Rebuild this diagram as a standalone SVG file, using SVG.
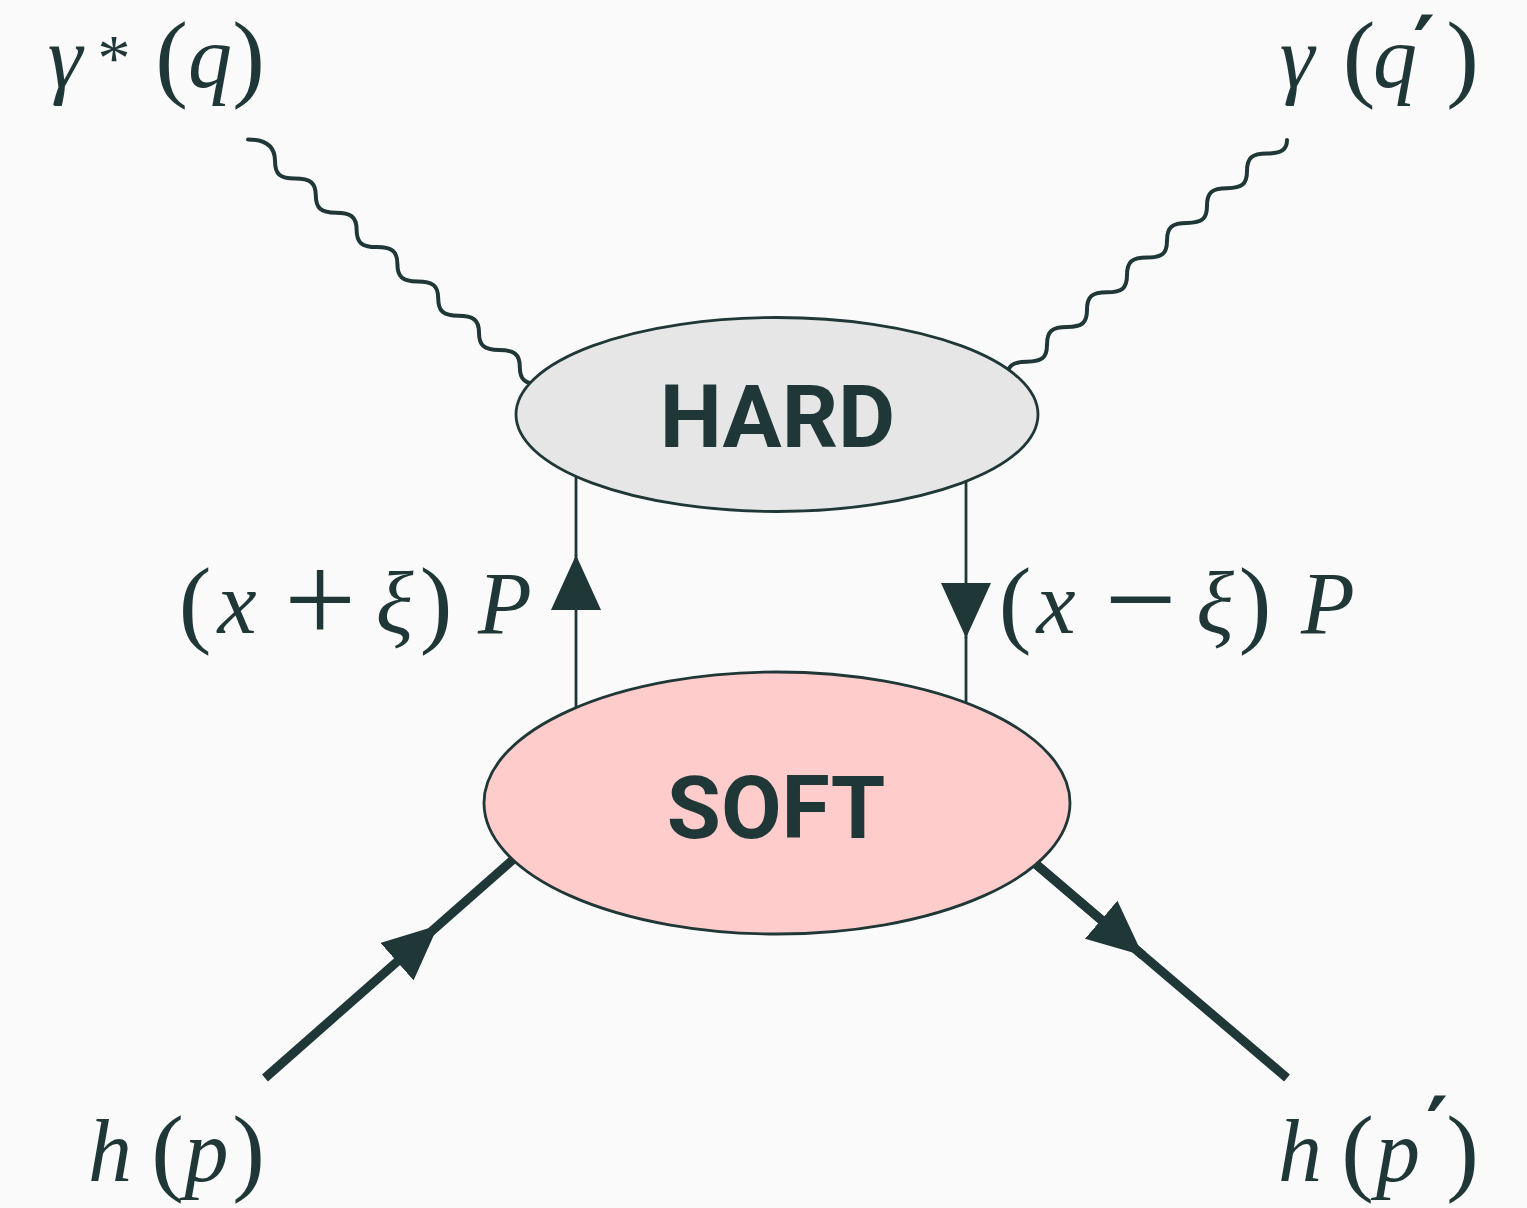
<svg xmlns="http://www.w3.org/2000/svg" width="1527" height="1208" viewBox="0 0 1527 1208">
<defs>
<style>
.ln{stroke:#1f3737;fill:none}
.wave{stroke-width:4;stroke-linecap:round;stroke-linejoin:round}
.thin{stroke-width:2.8}
.thick{stroke-width:9}
.node{stroke:#1f3737;stroke-width:2.8}
.lbl{font-family:Roboto,"Noto Sans",sans-serif;font-weight:700;fill:#1f3737;text-anchor:middle}
.m{font-family:'Liberation Serif','DejaVu Serif',serif;font-size:88px;fill:#1f3737;text-anchor:middle}
.i{font-style:italic}
.p{font-size:98px}
.s{font-size:66px}
.op{font-size:128px}
.pr{font-family:'DejaVu Sans',sans-serif;font-weight:700;font-size:84px}
</style>
<marker id="ah" markerUnits="userSpaceOnUse" markerWidth="56" markerHeight="50" viewBox="0 0 56 50" refX="55" refY="25" orient="auto">
<path d="M0,0 L55,25 L0,50 Z" fill="#1f3737"/>
</marker>
</defs>
<rect width="1527" height="1208" fill="#fafafa"/>
<g id="connectors">
<path id="photon-in" class="ln wave" d="M248,139.5 c19,0 27,8.1 27,21.5 s5,17.5 20,17.5 s20.8,4 20.8,16.8 s5,17.5 20,17.5 s20.8,4 20.8,16.8 s5,17.5 20,17.5 s20.8,4 20.8,16.8 s5,17.5 20,17.5 s20.8,4 20.8,16.8 s5,17.5 20,17.5 s20.8,4 20.8,16.8 s5,17.5 20,17.5 s20.8,4 20.8,16.8 s5,17.5 20,17.5"/>
<path id="photon-out" class="ln wave" d="M1287,140 c0,9 -5,13.5 -20,13.5 s-20,4.2 -20,17.5 s-5,17.2 -20,17.2 s-20,4.2 -20,17.5 s-5,17.2 -20,17.2 s-20,4.2 -20,17.5 s-5,17.2 -20,17.2 s-20,4.2 -20,17.5 s-5,17.2 -20,17.2 s-20,4.2 -20,17.5 s-5,17.2 -20,17.2 s-20,4.2 -20,17.5 s-5,17.2 -20,17.2 s-20,4.2 -20,17.5"/>
<path class="ln thin" d="M576,712 L576,555" marker-end="url(#ah)"/>
<path class="ln thin" d="M576,556 L576,470"/>
<path class="ln thin" d="M966,470 L966,638" marker-end="url(#ah)"/>
<path class="ln thin" d="M966,637 L966,712"/>
<path class="ln thick" d="M265,1078 L438.3,925.3" marker-end="url(#ah)"/>
<path class="ln thick" d="M438,925.6 L525,849"/>
<path class="ln thick" d="M1287,1078 L1025,855"/>
<path class="ln thick" d="M1030,859 L1143,955.5" marker-end="url(#ah)"/>
</g>
<g id="hard">
<ellipse class="node" cx="777" cy="414.5" rx="261" ry="97" fill="#e6e6e6"/>
<text class="lbl" x="777.5" y="447" font-size="88">HARD</text>
</g>
<g id="soft">
<ellipse class="node" cx="777" cy="803" rx="293" ry="131" fill="#ffcccc"/>
<text class="lbl" x="776" y="838" font-size="88">SOFT</text>
</g>
<g id="label-gamma-star">
<text class="m i" x="65" y="87">γ</text>
<text class="m s" x="114" y="80">*</text>
<text class="m p" x="171.5" y="89">(</text>
<text class="m i" x="210" y="87">q</text>
<text class="m p" x="248.5" y="89">)</text>
</g>
<g id="label-gamma">
<text class="m i" x="1297" y="87">γ</text>
<text class="m p" x="1359" y="89">(</text>
<text class="m i" x="1395" y="87">q</text>
<text class="m pr" x="1424" y="76">′</text>
<text class="m p" x="1462.5" y="89">)</text>
</g>
<g id="label-left-momentum">
<text class="m p" x="195" y="635">(</text>
<text class="m i" x="237" y="633">x</text>
<text class="m op" x="320" y="642">+</text>
<text class="m i" x="394.5" y="633">ξ</text>
<text class="m p" x="436" y="635">)</text>
<text class="m i" x="505" y="633">P</text>
</g>
<g id="label-right-momentum">
<text class="m p" x="1015" y="635">(</text>
<text class="m i" x="1056" y="633">x</text>
<text class="m op" x="1140.5" y="642">−</text>
<text class="m i" x="1215" y="633">ξ</text>
<text class="m p" x="1255" y="635">)</text>
<text class="m i" x="1328" y="633">P</text>
</g>
<g id="label-hp">
<text class="m i" x="110" y="1181">h</text>
<text class="m p" x="167.5" y="1183">(</text>
<text class="m i" x="206.5" y="1181">p</text>
<text class="m p" x="248.5" y="1183">)</text>
</g>
<g id="label-hp-prime">
<text class="m i" x="1300" y="1181">h</text>
<text class="m p" x="1357.5" y="1183">(</text>
<text class="m i" x="1398" y="1181">p</text>
<text class="m pr" x="1437" y="1157">′</text>
<text class="m p" x="1462.5" y="1183">)</text>
</g>
</svg>
